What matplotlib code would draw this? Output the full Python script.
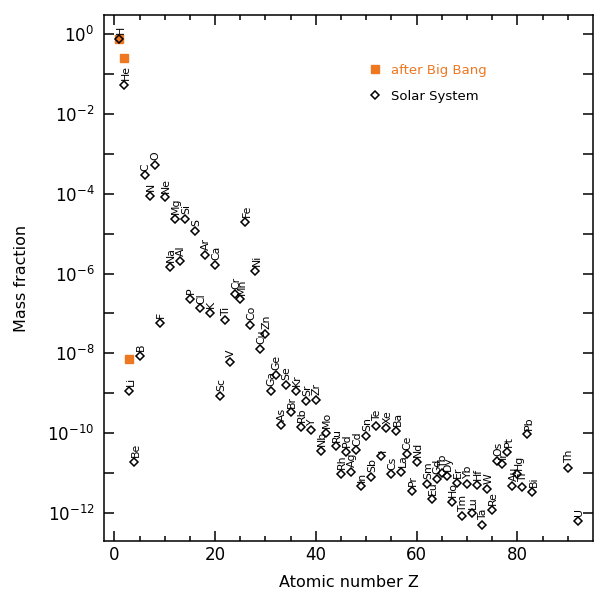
import numpy as np
import matplotlib
matplotlib.use('Agg')
import matplotlib.pyplot as plt
from matplotlib.ticker import NullFormatter

# --- DATA ---
# Solar System mass fractions, log10 values
solar_z = [1, 2, 3, 4, 5, 6, 7, 8, 9, 10, 11, 12, 13, 14, 15, 16, 17, 18, 19, 20,
           21, 22, 23, 24, 25, 26, 27, 28, 29, 30, 31, 32, 33, 34, 35, 36, 37, 38, 39, 40,
           41, 42, 44, 45, 46, 47, 48, 49, 50, 51, 52, 53, 54, 55, 56, 57, 58, 59, 60,
           62, 63, 64, 65, 66, 67, 68, 69, 70, 71, 72, 73, 74, 75, 76, 77, 78, 79, 80,
           81, 82, 83, 90, 92]
solar_sym = ['H', 'He', 'Li', 'Be', 'B', 'C', 'N', 'O', 'F', 'Ne', 'Na', 'Mg', 'Al', 'Si',
             'P', 'S', 'Cl', 'Ar', 'K', 'Ca', 'Sc', 'Ti', 'V', 'Cr', 'Mn', 'Fe', 'Co', 'Ni',
             'Cu', 'Zn', 'Ga', 'Ge', 'As', 'Se', 'Br', 'Kr', 'Rb', 'Sr', 'Y', 'Zr',
             'Nb', 'Mo', 'Ru', 'Rh', 'Pd', 'Ag', 'Cd', 'In', 'Sn', 'Sb', 'Te', 'I', 'Xe',
             'Cs', 'Ba', 'La', 'Ce', 'Pr', 'Nd', 'Sm', 'Eu', 'Gd', 'Tb', 'Dy', 'Ho', 'Er',
             'Tm', 'Yb', 'Lu', 'Hf', 'Ta', 'W', 'Re', 'Os', 'Ir', 'Pt', 'Au', 'Hg',
             'Tl', 'Pb', 'Bi', 'Th', 'U']
solar_log = [-0.13, -1.28, -8.93, -10.71, -8.07, -3.54, -4.05, -3.28, -7.23, -4.09,
             -5.84, -4.63, -5.69, -4.63, -6.64, -4.93, -6.87, -5.54, -6.99, -5.78,
             -9.06, -7.17, -8.21, -6.51, -6.65, -4.71, -7.28, -5.94, -7.89, -7.52,
             -8.93, -8.54, -9.80, -8.78, -9.48, -8.94, -9.84, -9.19, -9.93, -9.17,
             -10.45, -10.00, -10.33, -11.01, -10.47, -10.97, -10.43, -11.33, -10.07, -11.09,
             -9.82, -10.58, -9.88, -11.03, -9.94, -10.96, -10.53, -11.44, -10.72,
             -11.26, -11.66, -11.14, -11.00, -11.07, -11.72, -11.25, -12.08, -11.27, -12.01,
             -11.30, -12.30, -11.40, -11.92, -10.70, -10.76, -10.47, -11.32, -11.03,
             -11.34, -10.03, -11.47, -10.86, -12.19]

# after Big Bang (H, He, Li)
bbn_z = [1, 2, 3]
bbn_log = [-0.13, -0.61, -8.14]

ORANGE = '#EE7722'

solar_y = 10.0 ** np.array(solar_log)
bbn_y = 10.0 ** np.array(bbn_log)

plt.rcParams['font.family'] = ['DejaVu Sans']
plt.rcParams['mathtext.fontset'] = 'dejavusans'

fig = plt.figure(figsize=(6.1, 6.0), dpi=100)
ax = fig.add_axes([0.1705, 0.0983, 0.8015, 0.8767])

ax.plot(bbn_z, bbn_y, linestyle='none', marker='s', markersize=5.5,
        color=ORANGE, label='after Big Bang', zorder=2)
ax.plot(solar_z, solar_y, linestyle='none', marker='D', markersize=3.6,
        markerfacecolor='none', markeredgecolor='black', markeredgewidth=1.1,
        label='Solar System', zorder=3)

# element labels, rotated, just above each point
for z, s, y in zip(solar_z, solar_sym, solar_y):
    ax.annotate(s, (z, y), xytext=(0.8, 3.4), textcoords='offset points',
                rotation=90, ha='center', va='bottom', fontsize=7.8)

ax.set_yscale('log')
ax.set_xlim(-2.05, 95)
ax.set_ylim(10 ** -12.7, 10 ** 0.475)

major_exp = np.arange(-12, 1, 2)
ax.set_yticks(10.0 ** major_exp)
ax.set_yticklabels([f'$10^{{{e}}}$' for e in major_exp])
ax.set_yticks(10.0 ** np.arange(-11, 0, 2), minor=True)
ax.yaxis.set_minor_formatter(NullFormatter())

ax.set_xticks([0, 20, 40, 60, 80])
ax.set_xticks(np.arange(0, 95, 5), minor=True)

ax.tick_params(axis='both', which='both', direction='in', top=True, right=True,
               width=1.1, labelsize=12)
ax.tick_params(axis='x', which='major', length=7, pad=3.5)
ax.tick_params(axis='x', which='minor', length=3.5)
ax.tick_params(axis='y', which='both', length=7.5, pad=7)
for sp in ax.spines.values():
    sp.set_linewidth(1.1)

ax.set_xlabel('Atomic number Z', fontsize=11.5, labelpad=8)
ax.set_ylabel('Mass fraction', fontsize=11.5, labelpad=13)

leg = ax.legend(loc='upper left', bbox_to_anchor=(0.52, 0.93), frameon=False,
                fontsize=9.5, handlelength=0.8, handletextpad=0.8,
                labelspacing=1.0, labelcolor=[ORANGE, 'black'])

fig.savefig('out.png', dpi=100)
